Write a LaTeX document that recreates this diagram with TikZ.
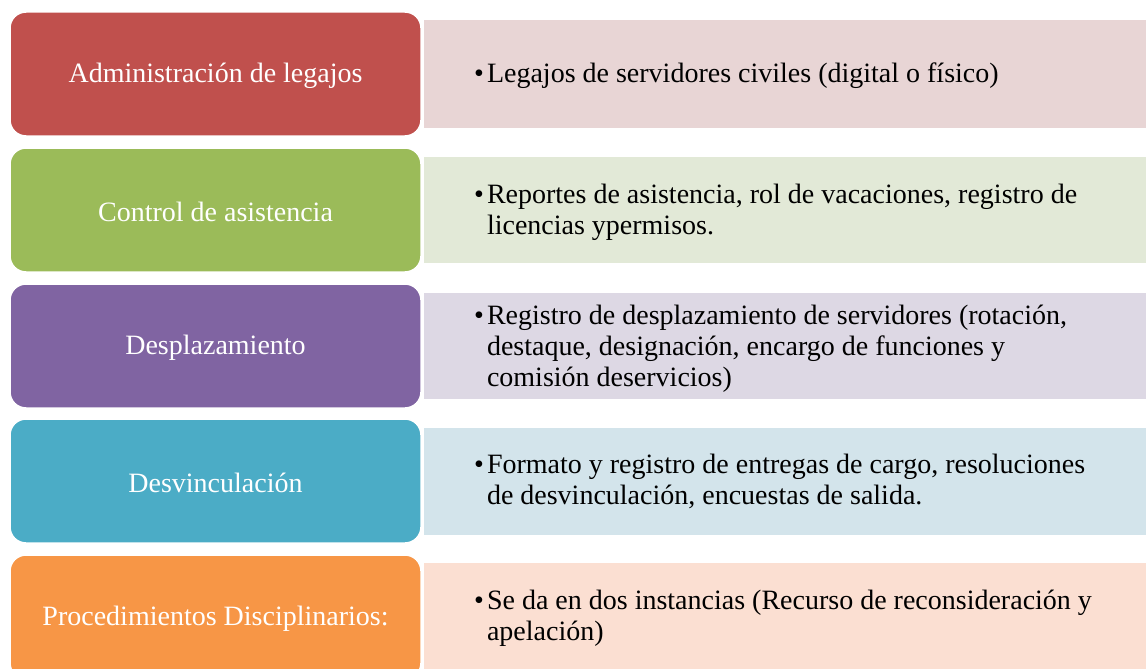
\documentclass[tikz,border=0pt]{standalone}
\usepackage{fontspec}
\setmainfont{Liberation Serif}
\definecolor{cRed}{HTML}{C0504D}
\definecolor{cGreen}{HTML}{9BBB59}
\definecolor{cPurple}{HTML}{8064A2}
\definecolor{cTeal}{HTML}{4BACC6}
\definecolor{cOrange}{HTML}{F79646}
\definecolor{lRed}{HTML}{E8D5D5}
\definecolor{lGreen}{HTML}{E2E9D7}
\definecolor{lPurple}{HTML}{DDD8E4}
\definecolor{lTeal}{HTML}{D3E4EB}
\definecolor{lOrange}{HTML}{FBDFD2}
\tikzset{
  lbox/.style={rounded corners=16pt, draw=white, line width=1.5pt, fill=#1},
  rbox/.style={draw=white, line width=1pt, fill=#1},
  ltext/.style={text=white, font=\fontsize{28}{31}\selectfont, inner sep=0pt},
  rtext/.style={text=black, font=\fontsize{28}{31}\selectfont, inner sep=0pt, anchor=west, align=left},
}
\newcommand{\bul}[1]{\begin{tabular}{@{}l@{\hspace{3pt}}l@{}}\textbullet & #1\end{tabular}}
\begin{document}
\begin{tikzpicture}[x=1pt,y=-1pt]
\useasboundingbox (0,0) rectangle (1146,669);
\clip (0,0) rectangle (1146,669);
% right boxes
\path[rbox=lRed]    (423,20)  rectangle (1150,128) coordinate (r1);
\path[rbox=lGreen]  (423,156) rectangle (1150,263) coordinate (r2);
\path[rbox=lPurple] (423,292) rectangle (1150,399) coordinate (r3);
\path[rbox=lTeal]   (423,427) rectangle (1150,535) coordinate (r4);
\path[rbox=lOrange] (423,562) rectangle (1150,680) coordinate (r5);
% left boxes
\path[lbox=cRed]    (10,12)  rectangle (421,136);
\path[lbox=cGreen]  (10,148) rectangle (421,272);
\path[lbox=cPurple] (10,284) rectangle (421,408);
\path[lbox=cTeal]   (10,419) rectangle (421,543);
\path[lbox=cOrange] (10,555) rectangle (421,679);
% left labels
\node[ltext] (l1) at (215.5,76)  {Administración de legajos};
\node[ltext] (l2) at (215.5,212) {Control de asistencia};
\node[ltext] (l3) at (215.5,348) {Desplazamiento};
\node[ltext] (l4) at (215.5,483) {Desvinculación};
\node[ltext] (l5) at (215.5,619) {Procedimientos Disciplinarios:};
% right texts
\node[rtext] (t1) at (474,76) {\bul{Legajos de servidores civiles (digital o físico)}};
\node[rtext] (t2) at (474,213) {\bul{Reportes de asistencia, rol de vacaciones, registro de\\ & licencias ypermisos.}};
\node[rtext] (t3) at (474,349) {\bul{Registro de desplazamiento de servidores (rotación,\\ & destaque, designación, encargo de funciones y\\ & comisión deservicios)}};
\node[rtext] (t4) at (474,483) {\bul{Formato y registro de entregas de cargo, resoluciones\\ & de desvinculación, encuestas de salida.}};
\node[rtext] (t5) at (474,619) {\bul{Se da en dos instancias (Recurso de reconsideración y\\ & apelación)}};
\end{tikzpicture}
\end{document}
